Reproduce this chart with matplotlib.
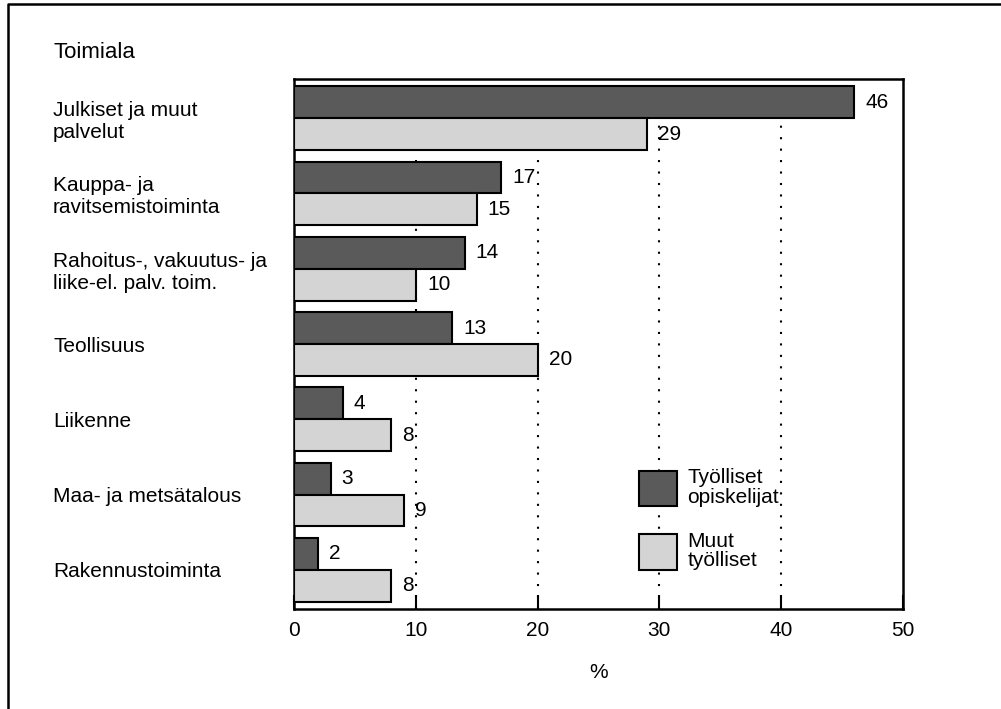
import matplotlib.pyplot as plt
import numpy as np
from matplotlib.lines import Line2D

plt.rcParams['font.family'] = ['Liberation Sans', 'DejaVu Sans']

categories = ['Julkiset ja muut\npalvelut',
              'Kauppa- ja\nravitsemistoiminta',
              'Rahoitus-, vakuutus- ja\nliike-el. palv. toim.',
              'Teollisuus',
              'Liikenne',
              'Maa- ja metsätalous',
              'Rakennustoiminta']
opiskelijat = [46, 17, 14, 13, 4, 3, 2]
muut = [29, 15, 10, 20, 8, 9, 8]
series_names = ['Työlliset\nopiskelijat', 'Muut\ntyölliset']
x_ticks = [0, 10, 20, 30, 40, 50]

W, H = 1001, 709
fs = 15

fig = plt.figure(figsize=(W / 100, H / 100), dpi=100)
ax = fig.add_axes([294 / W, 1 - 609 / H, 609 / W, 530 / H])

y = np.arange(len(categories))[::-1].astype(float)
h = 0.424
dark = ax.barh(y + h / 2, opiskelijat, height=h, color='#5a5a5a',
               edgecolor='black', linewidth=1.5, zorder=3)
light = ax.barh(y - h / 2, muut, height=h, color='#d4d4d4',
                edgecolor='black', linewidth=1.5, zorder=3)

for bars, vals in ((dark, opiskelijat), (light, muut)):
    for b, v in zip(bars, vals):
        ax.annotate(str(v), (v, b.get_y() + b.get_height() / 2),
                    xytext=(8, 0), textcoords='offset points',
                    va='center', ha='left', fontsize=fs, zorder=4)

ax.set_xlim(0, 50)
ax.set_ylim(-0.52, len(categories) - 1 + 0.52)
ax.set_xticks(x_ticks)
ax.tick_params(axis='x', direction='in', length=10, width=1.5, pad=9, labelsize=fs)
ax.set_yticks(y)
ax.set_yticklabels(categories, fontsize=fs)
ax.tick_params(axis='y', length=0, pad=173.5)
for lab in ax.get_yticklabels():
    lab.set_ha('left')

# dotted guides start just below the top (dark) bar, as in the original
for gx in x_ticks[1:-1]:
    ax.plot([gx, gx], [-0.52, y[0] - 0.06], color='black',
            linestyle=(0, (1, 4.5)), linewidth=1.5, zorder=1)

for s in ax.spines.values():
    s.set_linewidth(1.8)

ax.set_xlabel('%', fontsize=fs, labelpad=16)

leg = ax.legend([dark, light], series_names, loc='upper left',
                bbox_to_anchor=(639 / W, 1 - 468 / H), bbox_transform=fig.transFigure,
                frameon=False, borderpad=0, borderaxespad=0, fontsize=fs,
                handlelength=1.83, handleheight=2.25, handletextpad=0.48,
                labelspacing=1.2)
for t in leg.get_texts():
    t.set_linespacing(1.05)

fig.text(53 / W, 1 - 52 / H, 'Toimiala', fontsize=16, ha='left', va='center')

fig.add_artist(Line2D([8 / W, 8 / W, 1], [0, 1 - 4 / H, 1 - 4 / H],
                      transform=fig.transFigure, color='black', linewidth=1.8))

fig.savefig('out.png', dpi=100)
